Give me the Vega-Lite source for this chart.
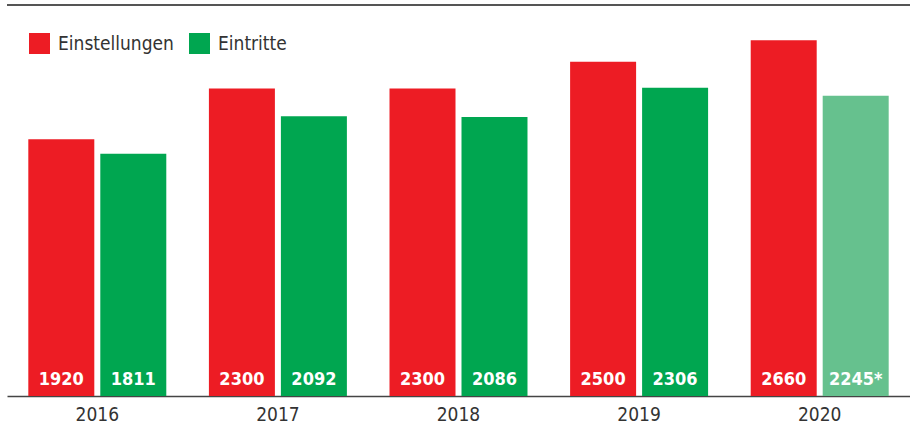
{
  "$schema": "https://vega.github.io/schema/vega-lite/v6.json",
  "width": 903,
  "height": 391,
  "autosize": {"type": "none"},
  "padding": {"left": 7, "top": 5, "right": 0, "bottom": 40},
  "background": "white",
  "config": {
    "view": {"stroke": null},
    "font": "DejaVu Sans Condensed, sans-serif"
  },
  "data": {
    "values": [
      {"year": "2016", "series": "Einstellungen", "value": 1920, "label": "1920", "estimate": false},
      {"year": "2016", "series": "Eintritte", "value": 1811, "label": "1811", "estimate": false},
      {"year": "2017", "series": "Einstellungen", "value": 2300, "label": "2300", "estimate": false},
      {"year": "2017", "series": "Eintritte", "value": 2092, "label": "2092", "estimate": false},
      {"year": "2018", "series": "Einstellungen", "value": 2300, "label": "2300", "estimate": false},
      {"year": "2018", "series": "Eintritte", "value": 2086, "label": "2086", "estimate": false},
      {"year": "2019", "series": "Einstellungen", "value": 2500, "label": "2500", "estimate": false},
      {"year": "2019", "series": "Eintritte", "value": 2306, "label": "2306", "estimate": false},
      {"year": "2020", "series": "Einstellungen", "value": 2660, "label": "2660", "estimate": false},
      {"year": "2020", "series": "Eintritte", "value": 2245, "label": "2245*", "estimate": true}
    ]
  },
  "encoding": {
    "x": {
      "field": "year",
      "type": "nominal",
      "scale": {"paddingInner": 0, "paddingOuter": 0},
      "axis": {
        "title": null,
        "labelAngle": 0,
        "ticks": false,
        "domainColor": "#444",
        "domainWidth": 1.5,
        "labelFontSize": 19,
        "labelColor": "#333",
        "labelPadding": 9,
        "labelFont": "DejaVu Sans Condensed, sans-serif"
      }
    },
    "xOffset": {
      "field": "series",
      "type": "nominal",
      "scale": {"paddingInner": 0.0833, "paddingOuter": 0.296}
    },
    "y": {
      "field": "value",
      "type": "quantitative",
      "scale": {"domain": [0, 2924], "nice": false},
      "axis": null
    }
  },
  "layer": [
    {
      "mark": {"type": "bar"},
      "encoding": {
        "color": {
          "field": "series",
          "type": "nominal",
          "scale": {"domain": ["Einstellungen", "Eintritte"], "range": ["#ed1c24", "#00a650"]},
          "condition": {"test": "datum.estimate", "value": "#66c18e"},
          "legend": {
            "title": null,
            "orient": "none",
            "legendX": 22,
            "legendY": 28,
            "direction": "horizontal",
            "padding": 0,
            "symbolType": "square",
            "symbolSize": 441,
            "symbolStrokeWidth": 0,
            "symbolOpacity": 1,
            "labelFontSize": 19,
            "labelColor": "#333",
            "labelOffset": 8,
            "columnPadding": 15,
            "labelFont": "DejaVu Sans Condensed, sans-serif"
          }
        }
      }
    },
    {
      "mark": {"type": "text", "color": "white", "fontWeight": "bold", "fontSize": 18, "baseline": "middle", "dy": -16, "font": "DejaVu Sans Condensed, sans-serif"},
      "encoding": {
        "y": {"datum": 0},
        "text": {"field": "label", "type": "nominal"}
      }
    },
    {
      "mark": {"type": "rule", "color": "#555", "strokeWidth": 2},
      "encoding": {
        "y": {"datum": 2924},
        "xOffset": null,
        "x": null
      }
    }
  ]
}
